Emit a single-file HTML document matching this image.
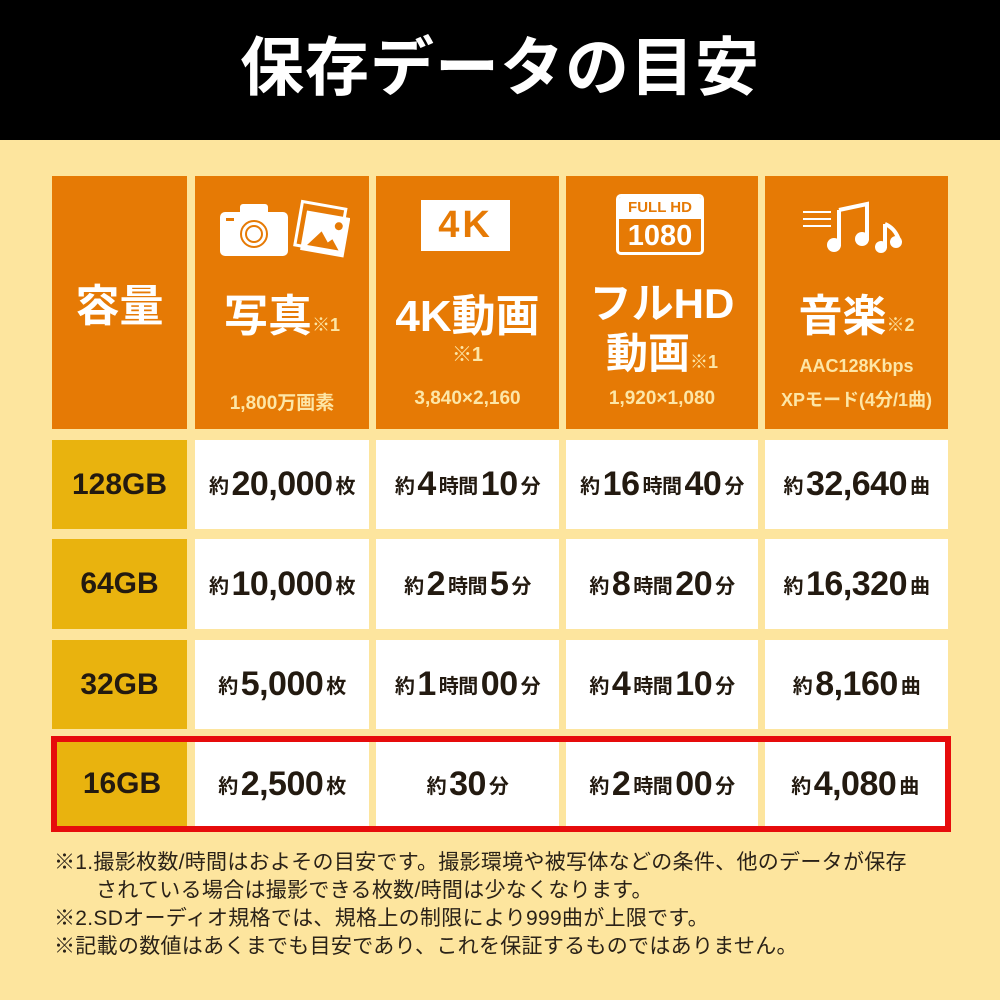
<!DOCTYPE html>
<html><head><meta charset="utf-8"><style>
*{margin:0;padding:0;box-sizing:border-box}
body{width:1000px;height:1000px;background:#fde59e;position:relative;overflow:hidden;font-family:"Liberation Sans","Noto Sans CJK JP",sans-serif;font-weight:bold}
.abs{position:absolute}
.hd{background:#e67a05;color:#fff;text-align:center}
.cap{background:#e9b30e;color:#231a10;display:flex;align-items:center;justify-content:center;font-size:30px}
.cell{background:#fff;color:#231a10;display:flex;align-items:center;justify-content:center;font-size:34px;white-space:nowrap;letter-spacing:-0.5px}
.cell s{text-decoration:none;font-size:20px;margin:0 3px}
.sub{color:#fde6a6;font-size:19px}
.n{font-size:18px;color:#fde6a6;font-weight:bold}
.note{color:#2a2218;font-size:21px;font-weight:normal;line-height:28px;white-space:nowrap}
</style></head><body>
<div class="abs" style="left:0;top:0;width:1000px;height:140px;background:#000;color:#fff;font-size:64px;text-align:center;line-height:136px;letter-spacing:1px">保存データの目安</div>

<!-- header -->
<div class="abs hd" style="left:52px;top:176px;width:135px;height:253px;font-size:44px;line-height:262px">容量</div>
<div class="abs hd" style="left:195px;top:176px;width:174px;height:253px">
 <svg class="abs" style="left:25px;top:23px" width="130" height="60" viewBox="0 0 130 60">
  <rect x="0" y="13" width="68" height="44" rx="5" fill="#fff"/><rect x="20" y="5" width="28" height="12" rx="3" fill="#fff"/>
  <circle cx="34" cy="35" r="13" fill="none" stroke="#e67a05" stroke-width="2"/><circle cx="34" cy="35" r="8" fill="none" stroke="#e67a05" stroke-width="2"/><rect x="6" y="19" width="8" height="3" fill="#e67a05"/>
  <g transform="rotate(10 100 30)"><rect x="78" y="6" width="44" height="44" fill="none" stroke="#fff" stroke-width="3"/><rect x="84" y="14" width="44" height="40" fill="#fff"/><path d="M90 48 L102 32 L110 42 L114 38 L122 48Z" fill="#e67a05"/><circle cx="118" cy="24" r="4" fill="#e67a05"/></g>
 </svg>
 <div class="abs" style="left:0;top:104px;width:174px;font-size:44px">写真<span class="n">※1</span></div>
 <div class="abs sub" style="left:0;top:212px;width:174px">1,800万画素</div>
</div>
<div class="abs hd" style="left:376px;top:176px;width:183px;height:253px">
 <div class="abs" style="left:45px;top:24px;width:89px;height:51px;background:#fff;color:#e67a05;font-size:38px;line-height:51px;letter-spacing:3px">4K</div>
 <div class="abs" style="left:0;top:104px;width:183px;font-size:44px">4K動画</div>
 <div class="abs n" style="left:0;top:162px;width:183px;font-size:20px">※1</div>
 <div class="abs sub" style="left:0;top:212px;width:183px">3,840×2,160</div>
</div>
<div class="abs hd" style="left:566px;top:176px;width:192px;height:253px">
 <div class="abs" style="left:50px;top:18px;width:88px;height:61px;border:3px solid #fff;border-radius:5px;overflow:hidden">
  <div style="height:22px;background:#fff;color:#e67a05;font-size:15px;line-height:22px">FULL HD</div>
  <div style="font-size:29px;line-height:34px">1080</div></div>
 <div class="abs" style="left:0;top:103px;width:192px;font-size:42px;line-height:50px">フルHD</div>
 <div class="abs" style="left:0;top:153px;width:192px;font-size:42px;line-height:50px">動画<span class="n">※1</span></div>
 <div class="abs sub" style="left:0;top:212px;width:192px">1,920×1,080</div>
</div>
<div class="abs hd" style="left:765px;top:176px;width:183px;height:253px">
 <svg class="abs" style="left:38px;top:24px" width="105" height="55" viewBox="0 0 105 55">
  <g stroke="#fff" stroke-width="2"><line x1="0" y1="12" x2="28" y2="12"/><line x1="0" y1="19" x2="28" y2="19"/><line x1="0" y1="26" x2="28" y2="26"/></g>
  <path d="M36 10 L64 4 L64 40 M36 10 L36 46" stroke="#fff" stroke-width="4" fill="none"/><circle cx="31" cy="45" r="7" fill="#fff"/><circle cx="59" cy="39" r="7" fill="#fff"/>
  <path d="M82 24 L82 48 M82 24 Q92 28 96 40" stroke="#fff" stroke-width="4" fill="none"/><circle cx="78" cy="47" r="6" fill="#fff"/><circle cx="93" cy="42" r="6" fill="#fff"/>
 </svg>
 <div class="abs" style="left:0;top:104px;width:183px;font-size:44px">音楽<span class="n">※2</span></div>
 <div class="abs sub" style="left:0;top:180px;width:183px;font-size:18px">AAC128Kbps</div>
 <div class="abs sub" style="left:0;top:210px;width:183px;font-size:18px">XPモード(4分/1曲)</div>
</div>

<!-- rows -->
<div class="abs cap" style="left:52px;top:440px;width:135px;height:89px">128GB</div>
<div class="abs cell" style="left:195px;top:440px;width:174px;height:89px"><s>約</s>20,000<s>枚</s></div>
<div class="abs cell" style="left:376px;top:440px;width:183px;height:89px"><s>約</s>4<s>時間</s>10<s>分</s></div>
<div class="abs cell" style="left:566px;top:440px;width:192px;height:89px"><s>約</s>16<s>時間</s>40<s>分</s></div>
<div class="abs cell" style="left:765px;top:440px;width:183px;height:89px"><s>約</s>32,640<s>曲</s></div>

<div class="abs cap" style="left:52px;top:539px;width:135px;height:90px">64GB</div>
<div class="abs cell" style="left:195px;top:539px;width:174px;height:90px"><s>約</s>10,000<s>枚</s></div>
<div class="abs cell" style="left:376px;top:539px;width:183px;height:90px"><s>約</s>2<s>時間</s>5<s>分</s></div>
<div class="abs cell" style="left:566px;top:539px;width:192px;height:90px"><s>約</s>8<s>時間</s>20<s>分</s></div>
<div class="abs cell" style="left:765px;top:539px;width:183px;height:90px"><s>約</s>16,320<s>曲</s></div>

<div class="abs cap" style="left:52px;top:640px;width:135px;height:89px">32GB</div>
<div class="abs cell" style="left:195px;top:640px;width:174px;height:89px"><s>約</s>5,000<s>枚</s></div>
<div class="abs cell" style="left:376px;top:640px;width:183px;height:89px"><s>約</s>1<s>時間</s>00<s>分</s></div>
<div class="abs cell" style="left:566px;top:640px;width:192px;height:89px"><s>約</s>4<s>時間</s>10<s>分</s></div>
<div class="abs cell" style="left:765px;top:640px;width:183px;height:89px"><s>約</s>8,160<s>曲</s></div>

<div class="abs cap" style="left:57px;top:742px;width:130px;height:84px">16GB</div>
<div class="abs cell" style="left:195px;top:742px;width:174px;height:84px"><s>約</s>2,500<s>枚</s></div>
<div class="abs cell" style="left:376px;top:742px;width:183px;height:84px"><s>約</s>30<s>分</s></div>
<div class="abs cell" style="left:566px;top:742px;width:192px;height:84px"><s>約</s>2<s>時間</s>00<s>分</s></div>
<div class="abs cell" style="left:765px;top:742px;width:180px;height:84px"><s>約</s>4,080<s>曲</s></div>
<div class="abs" style="left:51px;top:736px;width:900px;height:96px;border:6px solid #e60c0c"></div>

<div class="abs note" style="left:54px;top:849px;letter-spacing:0.3px">※1.撮影枚数/時間はおよその目安です。撮影環境や被写体などの条件、他のデータが保存</div>
<div class="abs note" style="left:96px;top:877px;letter-spacing:0.3px">されている場合は撮影できる枚数/時間は少なくなります。</div>
<div class="abs note" style="left:54px;top:905px;letter-spacing:0.3px">※2.SDオーディオ規格では、規格上の制限により999曲が上限です。</div>
<div class="abs note" style="left:54px;top:933px;letter-spacing:0.3px">※記載の数値はあくまでも目安であり、これを保証するものではありません。</div>
</body></html>
